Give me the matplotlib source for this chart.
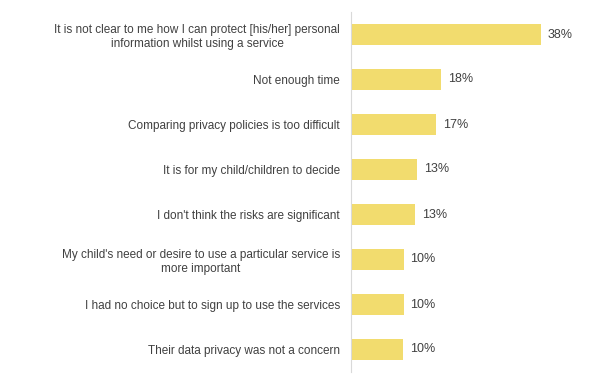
import matplotlib.pyplot as plt

plt.rcParams['font.family'] = ['Liberation Sans', 'DejaVu Sans']

# DATA
labels = [
    'It is not clear to me how I can protect [his/her] personal\ninformation whilst using a service',
    'Not enough time',
    'Comparing privacy policies is too difficult',
    'It is for my child/children to decide',
    "I don't think the risks are significant",
    "My child's need or desire to use a particular service is\nmore important",
    'I had no choice but to sign up to use the services',
    'Their data privacy was not a concern',
]
values = [38, 18, 17, 13.2, 12.8, 10.5, 10.5, 10.4]

bar_color = '#F2DC6E'
text_color = '#404040'

fig = plt.figure(figsize=(6, 3.77), dpi=100)
ax = fig.add_axes([351 / 600, 5 / 377, 249 / 600, 360 / 377])

pos = list(range(len(values)))
ax.barh(pos, values, height=0.45, color=bar_color)
ax.set_ylim(len(values) - 0.5, -0.5)
ax.set_xlim(0, 49.8)

for p, v in zip(pos, values):
    ax.text(v + 1.4, p, f'{v:.0f}%', va='center', ha='left', fontsize=9, color=text_color)

ax.set_yticks(pos)
ax.set_yticklabels(labels, fontsize=8.5, color=text_color, ha='right',
                   multialignment='center', linespacing=1.2)
ax.tick_params(axis='y', length=0, pad=8)
ax.set_xticks([])
for s in ['top', 'right', 'bottom']:
    ax.spines[s].set_visible(False)
ax.spines['left'].set_color('#D9D9D9')
ax.spines['left'].set_linewidth(0.8)

fig.savefig('out.png', dpi=100)
